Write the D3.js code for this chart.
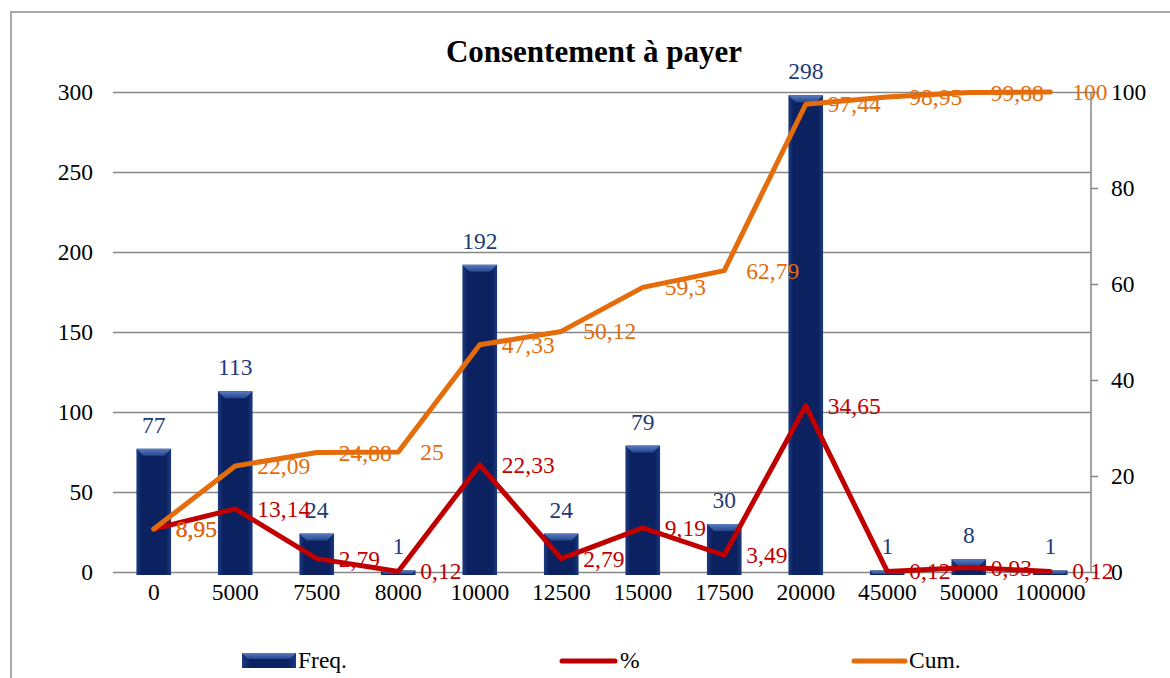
<!DOCTYPE html>
<html>
<head>
<meta charset="utf-8">
<script src="https://cdn.jsdelivr.net/npm/d3@7"></script>
<style>
  body { margin: 0; background: #fff; }
  svg text { font-family: "Liberation Serif", "Times New Roman", serif; }
  .axis path { display: none; }
  .axis line { stroke: #868686; stroke-width: 1.5; }
  .grid line { stroke: #868686; stroke-width: 1.5; }
  .grid path { display: none; }
</style>
</head>
<body>
<script>
// data
var categories = ["0", "5000", "7500", "8000", "10000", "12500", "15000", "17500", "20000", "45000", "50000", "100000"];
var freq = [77, 113, 24, 1, 192, 24, 79, 30, 298, 1, 8, 1];
var pct = [8.95, 13.14, 2.79, 0.12, 22.33, 2.79, 9.19, 3.49, 34.65, 0.12, 0.93, 0.12];
var cum = [8.95, 22.09, 24.88, 25, 47.33, 50.12, 59.3, 62.79, 97.44, 98.95, 99.88, 100];
var leftTicks = [0, 50, 100, 150, 200, 250, 300];
var rightTicks = [0, 20, 40, 60, 80, 100];

var W = 1170, H = 678;
var plot = {left: 113, right: 1091, top: 92, bottom: 572};
var fs = 23.5;

var fmt = function(v) { return String(v).replace(".", ","); };

var svg = d3.select("body").append("svg")
  .attr("width", W)
  .attr("height", H);

// gradients for the bevelled bars
var defs = svg.append("defs");
var gBody = defs.append("linearGradient").attr("id", "barBody")
  .attr("x1", "0").attr("x2", "1").attr("y1", "0").attr("y2", "0");
gBody.append("stop").attr("offset", "0").attr("stop-color", "#1d3a80");
gBody.append("stop").attr("offset", "0.15").attr("stop-color", "#0b2160");
gBody.append("stop").attr("offset", "0.85").attr("stop-color", "#0b2160");
gBody.append("stop").attr("offset", "1").attr("stop-color", "#1d3a80");
var gTop = defs.append("linearGradient").attr("id", "barTop")
  .attr("x1", "0").attr("x2", "0").attr("y1", "0").attr("y2", "1");
gTop.append("stop").attr("offset", "0").attr("stop-color", "#5b7cc0");
gTop.append("stop").attr("offset", "1").attr("stop-color", "#24468f");

// outer chart border
svg.append("rect")
  .attr("x", 11).attr("y", 12)
  .attr("width", W + 20).attr("height", H + 20)
  .attr("fill", "none")
  .attr("stroke", "#8c8c8c")
  .attr("stroke-width", 1.5);

// title
svg.append("text")
  .attr("x", 594).attr("y", 62)
  .attr("text-anchor", "middle")
  .style("font-size", "31px")
  .style("font-weight", "bold")
  .text("Consentement à payer");

// scales
var x = d3.scaleBand().domain(categories).range([plot.left, plot.right]).padding(0);
var yL = d3.scaleLinear().domain([0, 300]).range([plot.bottom, plot.top]);
var yR = d3.scaleLinear().domain([0, 100]).range([plot.bottom, plot.top]);
var cx = function(d, i) { return x(categories[i]) + x.bandwidth() / 2; };
var barW = x.bandwidth() * 0.425;

// gridlines
svg.append("g")
  .attr("class", "grid")
  .attr("transform", "translate(" + plot.left + ",0)")
  .call(d3.axisLeft(yL).tickValues(leftTicks).tickSize(-(plot.right - plot.left)).tickFormat(""));

// left axis labels
svg.append("g")
  .attr("class", "axis")
  .attr("transform", "translate(" + plot.left + ",0)")
  .call(d3.axisLeft(yL).tickValues(leftTicks).tickSize(0).tickPadding(20))
  .selectAll("text")
    .style("font-size", fs + "px")
    .attr("fill", "#000");

// right axis
var rAxis = svg.append("g")
  .attr("class", "axis")
  .attr("transform", "translate(" + plot.right + ",0)")
  .call(d3.axisRight(yR).tickValues(rightTicks).tickSize(7).tickPadding(13));
rAxis.selectAll("text").style("font-size", fs + "px").attr("fill", "#000");
rAxis.append("line")
  .attr("x1", 0).attr("x2", 0)
  .attr("y1", plot.top).attr("y2", plot.bottom)
  .attr("stroke", "#868686").attr("stroke-width", 1.5);

// x axis labels
svg.append("g")
  .attr("class", "axis")
  .attr("transform", "translate(0," + plot.bottom + ")")
  .call(d3.axisBottom(x).tickSize(0).tickPadding(11))
  .selectAll("text")
    .style("font-size", fs + "px")
    .attr("fill", "#000");

// bars
var bars = svg.selectAll(".bar")
    .data(freq)
  .enter().append("g")
    .attr("class", "bar");

bars.append("rect")
  .attr("x", function(d, i) { return cx(d, i) - barW / 2; })
  .attr("y", function(d) { return yL(d); })
  .attr("width", barW)
  .attr("height", function(d) { return plot.bottom - yL(d) + 3; })
  .attr("fill", "url(#barBody)");

bars.append("polygon")
  .attr("points", function(d, i) {
    var x0 = cx(d, i) - barW / 2, x1 = x0 + barW, t = yL(d);
    var b = Math.min(7, plot.bottom - t + 2);
    return [[x0, t], [x1, t], [x1 - b, t + b], [x0 + b, t + b]].join(" ");
  })
  .attr("fill", "url(#barTop)");

// lines
var line = d3.line()
  .x(function(d, i) { return cx(d, i); })
  .y(function(d) { return yR(d); });

svg.append("path")
  .datum(pct)
  .attr("d", line)
  .attr("fill", "none")
  .attr("stroke", "#c00000")
  .attr("stroke-width", 5)
  .attr("stroke-linejoin", "round")
  .attr("stroke-linecap", "round");

svg.append("path")
  .datum(cum)
  .attr("d", line)
  .attr("fill", "none")
  .attr("stroke", "#e46c0a")
  .attr("stroke-width", 5)
  .attr("stroke-linejoin", "round")
  .attr("stroke-linecap", "round");

// bar labels
svg.selectAll(".barLabel")
    .data(freq)
  .enter().append("text")
    .attr("class", "barLabel")
    .attr("x", cx)
    .attr("y", function(d) { return yL(d) - 16; })
    .attr("text-anchor", "middle")
    .style("font-size", fs + "px")
    .attr("fill", "#1f3a78")
    .text(function(d) { return d; });

// line labels, placed right of each point
svg.selectAll(".pctLabel")
    .data(pct)
  .enter().append("text")
    .attr("class", "pctLabel")
    .attr("x", function(d, i) { return cx(d, i) + 22; })
    .attr("y", function(d) { return yR(d) + 8; })
    .style("font-size", fs + "px")
    .attr("fill", "#c00000")
    .text(fmt);

svg.selectAll(".cumLabel")
    .data(cum)
  .enter().append("text")
    .attr("class", "cumLabel")
    .attr("x", function(d, i) { return cx(d, i) + 22; })
    .attr("y", function(d) { return yR(d) + 8; })
    .style("font-size", fs + "px")
    .attr("fill", "#e46c0a")
    .text(fmt);

// legend
var lg = svg.append("g").attr("class", "legend");
lg.append("rect")
  .attr("x", 242).attr("y", 653).attr("width", 54).attr("height", 15)
  .attr("fill", "url(#barBody)");
lg.append("polygon")
  .attr("points", "242,653 296,653 290,659 248,659")
  .attr("fill", "url(#barTop)");
lg.append("text").attr("x", 298).attr("y", 668).style("font-size", fs + "px").text("Freq.");

lg.append("line")
  .attr("x1", 562).attr("x2", 615).attr("y1", 661).attr("y2", 661)
  .attr("stroke", "#c00000").attr("stroke-width", 5).attr("stroke-linecap", "round");
lg.append("text").attr("x", 620).attr("y", 668).style("font-size", fs + "px").text("%");

lg.append("line")
  .attr("x1", 854).attr("x2", 905).attr("y1", 661).attr("y2", 661)
  .attr("stroke", "#e46c0a").attr("stroke-width", 5).attr("stroke-linecap", "round");
lg.append("text").attr("x", 909).attr("y", 668).style("font-size", fs + "px").text("Cum.");
</script>
</body>
</html>
